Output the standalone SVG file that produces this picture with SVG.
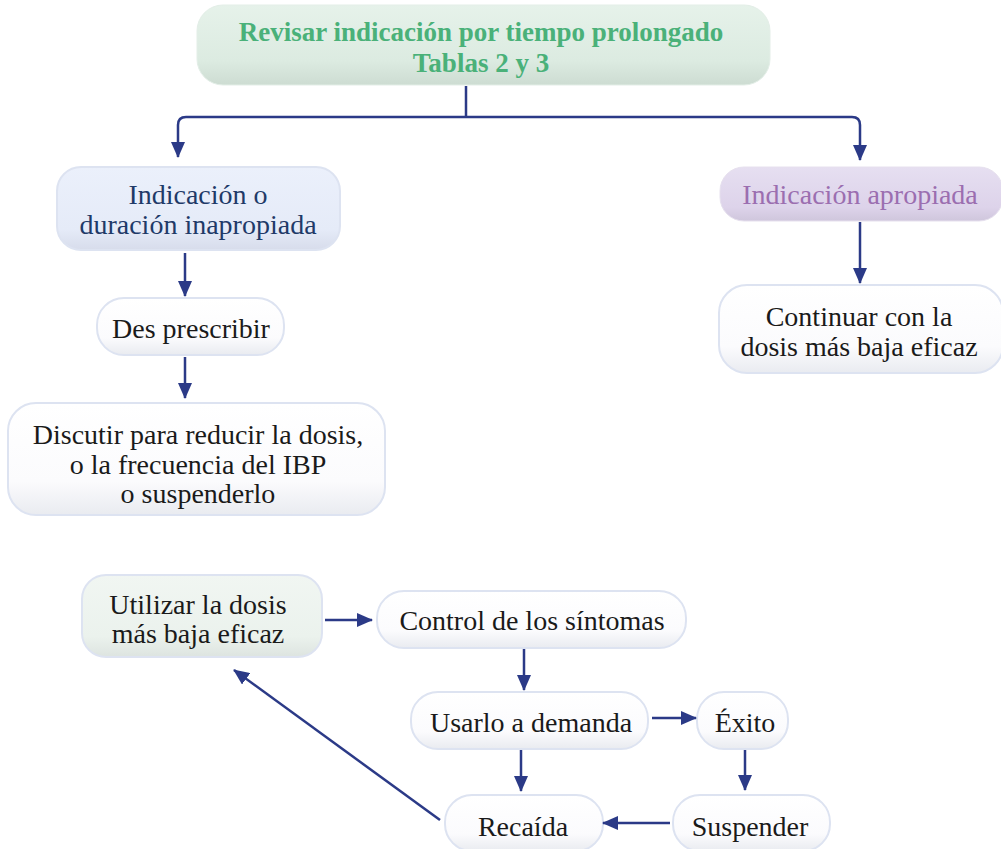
<svg xmlns="http://www.w3.org/2000/svg" width="1001" height="849" viewBox="0 0 1001 849">
<defs>
<linearGradient id="gW" x1="0" y1="0" x2="0" y2="1"><stop offset="0" stop-color="#ffffff"/><stop offset="0.7" stop-color="#fbfbfd"/><stop offset="1" stop-color="#e9ebf0"/></linearGradient>
<linearGradient id="gG" x1="0" y1="0" x2="0" y2="1"><stop offset="0" stop-color="#e6f2ea"/><stop offset="0.7" stop-color="#dcebe1"/><stop offset="1" stop-color="#cddcd2"/></linearGradient>
<linearGradient id="gB" x1="0" y1="0" x2="0" y2="1"><stop offset="0" stop-color="#ebf0fb"/><stop offset="0.75" stop-color="#e5ebf8"/><stop offset="1" stop-color="#d7dceb"/></linearGradient>
<linearGradient id="gP" x1="0" y1="0" x2="0" y2="1"><stop offset="0" stop-color="#e6dff1"/><stop offset="0.75" stop-color="#ddd3ea"/><stop offset="1" stop-color="#cfc6dc"/></linearGradient>
<linearGradient id="gL" x1="0" y1="0" x2="0" y2="1"><stop offset="0" stop-color="#f1f6f2"/><stop offset="0.75" stop-color="#ebf2ed"/><stop offset="1" stop-color="#dde4e0"/></linearGradient>
<marker id="ah2" markerWidth="16" markerHeight="14" refX="15" refY="7" orient="auto" markerUnits="userSpaceOnUse" viewBox="0 0 16 14">
<path d="M0,0 L16,7 L0,14 z" fill="#2b3a87"/>
</marker>
</defs>
<style>
.box{stroke:#dde3f1;stroke-width:2}
.t{font-family:"Liberation Serif","DejaVu Serif",serif;font-size:28px;fill:#1a1a1a;text-anchor:middle}
.title{font-family:"Liberation Serif","DejaVu Serif",serif;font-weight:bold;font-size:27px;fill:#4ab179;text-anchor:middle}
.con{fill:none;stroke:#2b3a87;stroke-width:2.5}
</style>
<rect width="1001" height="849" fill="#ffffff"/>

<g id="n-revisar">
<rect x="197" y="5" width="573" height="80" rx="26" fill="url(#gG)" stroke="#e3eee7" stroke-width="1"/>
<text class="title" x="481" y="41">Revisar indicación por tiempo prolongado</text>
<text class="title" x="481" y="72">Tablas 2 y 3</text>
</g>

<g id="n-inapropiada">
<rect x="57" y="167" width="283" height="83" rx="24" fill="url(#gB)" class="box"/>
<text class="t" x="198" y="204" style="fill:#1f3a68">Indicación o</text>
<text class="t" x="198" y="234" style="fill:#1f3a68">duración inapropiada</text>
</g>

<g id="n-apropiada">
<rect x="720" y="167" width="283" height="54" rx="24" fill="url(#gP)" stroke="#e6e0ee" stroke-width="1"/>
<text class="t" x="860" y="204" style="fill:#9b6eb0">Indicación apropiada</text>
</g>

<g id="n-desprescribir">
<rect x="97" y="298" width="187" height="57" rx="27" fill="url(#gW)" class="box"/>
<text class="t" x="191" y="338">Des prescribir</text>
</g>

<g id="n-discutir">
<rect x="8" y="403" width="377" height="112" rx="28" fill="url(#gW)" class="box"/>
<text class="t" x="198" y="444">Discutir para reducir la dosis,</text>
<text class="t" x="198" y="474">o la frecuencia del IBP</text>
<text class="t" x="198" y="503">o suspenderlo</text>
</g>

<g id="n-continuar">
<rect x="719" y="285" width="284" height="88" rx="28" fill="url(#gW)" class="box"/>
<text class="t" x="859" y="326">Continuar con la</text>
<text class="t" x="859" y="356">dosis más baja eficaz</text>
</g>

<g id="n-utilizar">
<rect x="82" y="575" width="240" height="82" rx="24" fill="url(#gL)" class="box"/>
<text class="t" x="198" y="614">Utilizar la dosis</text>
<text class="t" x="198" y="643">más baja eficaz</text>
</g>

<g id="n-control">
<rect x="377" y="591" width="309" height="57" rx="27" fill="url(#gW)" class="box"/>
<text class="t" x="532" y="630">Control de los síntomas</text>
</g>

<g id="n-usarlo">
<rect x="411" y="692" width="237" height="57" rx="27" fill="url(#gW)" class="box"/>
<text class="t" x="531" y="732">Usarlo a demanda</text>
</g>

<g id="n-exito">
<rect x="697" y="692" width="91" height="57" rx="27" fill="url(#gW)" class="box"/>
<text class="t" x="745" y="732">Éxito</text>
</g>

<g id="n-suspender">
<rect x="673" y="795" width="157" height="56" rx="27" fill="url(#gW)" class="box"/>
<text class="t" x="750" y="836">Suspender</text>
</g>

<g id="n-recaida">
<rect x="445" y="795" width="158" height="56" rx="27" fill="url(#gW)" class="box"/>
<text class="t" x="523" y="836">Recaída</text>
</g>

<g id="connectors">
<path class="con" d="M466,86 V117"/>
<path class="con" d="M466,117 H186 Q178,117 178,125 V157" marker-end="url(#ah2)"/>
<path class="con" d="M466,117 H852 Q860,117 860,125 V160" marker-end="url(#ah2)"/>
<path class="con" d="M185,253 V296" marker-end="url(#ah2)"/>
<path class="con" d="M185,357 V398" marker-end="url(#ah2)"/>
<path class="con" d="M860,222 V283" marker-end="url(#ah2)"/>
<path class="con" d="M325,620 H372" marker-end="url(#ah2)"/>
<path class="con" d="M524,649 V690" marker-end="url(#ah2)"/>
<path class="con" d="M652,718 H696" marker-end="url(#ah2)"/>
<path class="con" d="M745,750 V790" marker-end="url(#ah2)"/>
<path class="con" d="M521,750 V791" marker-end="url(#ah2)"/>
<path class="con" d="M670,823 H603" marker-end="url(#ah2)"/>
<path class="con" d="M440,820 L234,670" marker-end="url(#ah2)"/>
</g>
</svg>
